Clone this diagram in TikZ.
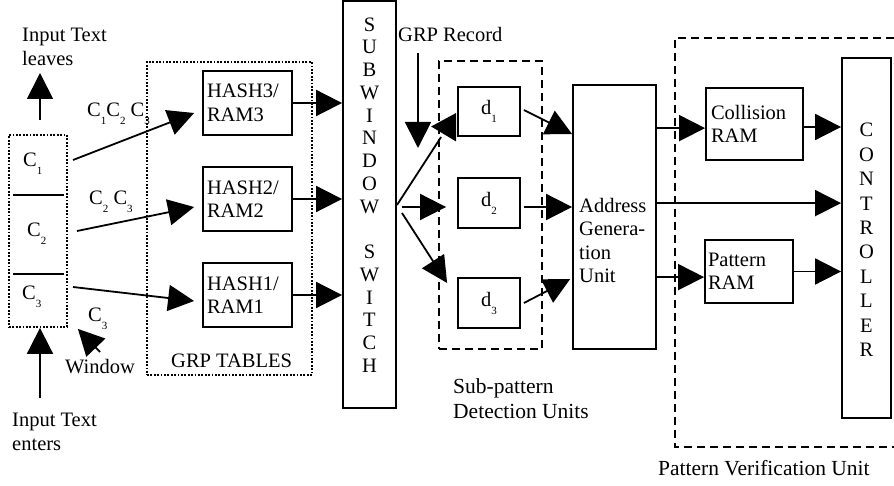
\documentclass[tikz,border=0pt]{standalone}
\usepackage{fontspec}
\setmainfont{Liberation Serif}
\usetikzlibrary{arrows.meta,calc}
\newcommand{\lowsub}[1]{\raisebox{-8pt}{\fontsize{11pt}{11pt}\selectfont #1}}
\newcommand{\mainsz}{\fontsize{20.5pt}{23.5pt}\selectfont}
\begin{document}
\begin{tikzpicture}[x=1pt,y=-1pt,
  every node/.style={font=\mainsz, inner sep=0pt},
  box/.style={draw, line width=1.8pt},
  dotbox/.style={draw, line width=1.8pt, dash pattern=on 1.8pt off 1.6pt},
  dashbox/.style={draw, line width=1.8pt, dash pattern=on 8pt off 5pt},
  conn/.style={line width=1.8pt},
  arr/.style={line width=1.8pt, -{Triangle[length=26pt,width=26pt]}},
  txt/.style={anchor=base west},
  bigtxt/.style={anchor=base west, font=\fontsize{21.5pt}{25pt}\selectfont},
]
\useasboundingbox (0,0) rectangle (894,486);

% ---------- window ----------
\node[dotbox, minimum width=58pt, minimum height=192pt] (win) at (38,231) {};
\draw[conn] (13,195) -- (64,195);
\draw[conn] (13,274) -- (64,274);
\node[txt] (c1) at (23,167) {C\lowsub{1}};
\node[txt] (c2) at (27,237) {C\lowsub{2}};
\node[txt] (c3) at (22,300) {C\lowsub{3}};

\node[txt] (lv1) at (22,42) {Input Text};
\node[txt] (lv2) at (22,66) {leaves};
\node[txt] (en1) at (12,426) {Input Text};
\node[txt] (en2) at (12,450) {enters};
\node[txt] (wlab) at (65,373) {Window};
\node[txt] (wc3) at (88,322) {C\lowsub{3}};

\coordinate (upS) at (40,120);
\coordinate (upE) at (40,73);
\draw[arr] (upS) -- (upE);
\coordinate (inS) at (40,398);
\draw[arr] (inS) -- (win.south -| inS);
\coordinate (wS) at (100,352);
\coordinate (wE) at ($(win.south east)+(10,1)$);
\draw[arr] (wS) -- (wE);

% ---------- GRP tables ----------
\node[dotbox, minimum width=165pt, minimum height=313pt] (grpt) at (229.5,218.5) {};
\node[txt] (grptl) at (171,367) {GRP TABLES};
\node[box, text width=81pt, inner xsep=4pt, minimum height=64pt, align=left] (h3) at (247.5,103) {HASH3/\\RAM3};
\node[box, text width=81pt, inner xsep=4pt, minimum height=64pt, align=left] (h2) at (247.5,199) {HASH2/\\RAM2};
\node[box, text width=81pt, inner xsep=4pt, minimum height=64pt, align=left] (h1) at (247.5,295) {HASH1/\\RAM1};

\node[txt] (l123) at (87,117) {C\lowsub{1}C\lowsub{2} C\lowsub{3}};
\node[txt] (l23) at (89,205) {C\lowsub{2} C\lowsub{3}};

\coordinate (w1) at (73,160);
\coordinate (w2) at (77,231);
\coordinate (w3) at (73,287);
\draw[arr] (w1) -- ($(h3.west)+(-8,10)$);
\draw[arr] (w2) -- ($(h2.west)+(-8,8)$);
\draw[arr] (w3) -- ($(h1.west)+(-8,6)$);

% ---------- subwindow switch ----------
\node[box, minimum width=53pt, minimum height=407pt] (sw) at (369.5,204.5) {};
\node[align=center, font=\fontsize{20.5pt}{22.75pt}\selectfont] (swt) at (369.5,195)
  {S\\U\\B\\W\\I\\N\\D\\O\\W\\[22.75pt]S\\W\\I\\T\\C\\H};
\draw[arr] (h3.east) -- (h3.east -| sw.west);
\draw[arr] (h2.east) -- (h2.east -| sw.west);
\draw[arr] (h1.east) -- (h1.east -| sw.west);

% ---------- sub-pattern detection ----------
\node[dashbox, minimum width=103pt, minimum height=288pt] (spd) at (490.5,205) {};
\node[box, minimum width=62pt, minimum height=49pt] (d1) at (489,111.5) {d\lowsub{1}};
\node[box, minimum width=62pt, minimum height=50pt] (d2) at (489,203) {d\lowsub{2}};
\node[box, minimum width=62pt, minimum height=50pt] (d3) at (489,303) {d\lowsub{3}};
\node[bigtxt] (sp1) at (453,393) {Sub-pattern};
\node[bigtxt] (sp2) at (453,418) {Detection Units};

\node[txt] (grpr) at (398,42) {GRP Record};
\coordinate (grS) at (418,53);
\coordinate (grE) at (418,148);
\draw[arr] (grS) -- (grE);

\coordinate (swo) at (397,205);
\coordinate (swo2) at (402,207);
\coordinate (swo3) at (402,213);
\draw[conn] (swo) -- ($(d1.west)+(-16,25.5)$);
\fill ($(d1.west)+(-26,15)$) -- ($(d1.west)+(-1,1.5)$) -- ($(d1.west)+(-1,30)$) -- cycle;
\draw[arr] (swo2) -- ($(d2.west)+(-11,4)$);
\draw[arr] (swo3) -- ($(d3.west)+(-10,-20)$);

% ---------- address generation unit ----------
\node[box, minimum width=83pt, minimum height=264pt] (agu) at (614.5,217) {};
\node[anchor=north west, align=left, font=\fontsize{20.5pt}{23.3pt}\selectfont] (agut) at (579,198)
  {Address\\Genera-\\tion\\Unit};
\coordinate (d1o) at ($(d1.east)+(3,-1.5)$);
\coordinate (d2o) at ($(d2.east)+(3,4)$);
\coordinate (d3o) at ($(d3.east)+(3,0)$);
\draw[arr] (d1o) -- ($(agu.north west)+(0,50)$);
\draw[arr] (d2o) -- (d2o -| agu.west);
\draw[arr] (d3o) -- ($(agu.north west)+(-2,195)$);

% ---------- pattern verification ----------
\draw[dashbox] (894,38) -- (675,38) -- (675,447) -- (894,447);
\node[bigtxt] (pvu) at (658,475) {Pattern Verification Unit};
\node[box, text width=87pt, inner xsep=5pt, minimum height=72pt, align=left] (col) at (754.5,124) {Collision\\RAM};
\node[box, text width=82pt, inner xsep=3pt, minimum height=63pt, align=left] (pat) at (749,271.5) {Pattern\\RAM};
\node[box, minimum width=49pt, minimum height=360pt] (ctrl) at (866.5,238) {};
\node[align=center, font=\fontsize{20.5pt}{24.4pt}\selectfont] (ctrlt) at (866.5,240)
  {C\\O\\N\\T\\R\\O\\L\\L\\E\\R};

\coordinate (ag1) at ($(agu.north east)+(0,44)$);
\coordinate (ag2) at ($(agu.north east)+(0,119)$);
\coordinate (ag3) at ($(agu.north east)+(0,193)$);
\coordinate (co1) at ($(col.east)+(0,3)$);
\draw[arr] (ag1) -- (ag1 -| col.west);
\draw[arr] (ag2) -- (ag2 -| ctrl.west);
\draw[arr] (ag3) -- (ag3 -| pat.west);
\draw[arr] (co1) -- (co1 -| ctrl.west);
\draw[arr] (pat.east) -- (pat.east -| ctrl.west);
\end{tikzpicture}
\end{document}
